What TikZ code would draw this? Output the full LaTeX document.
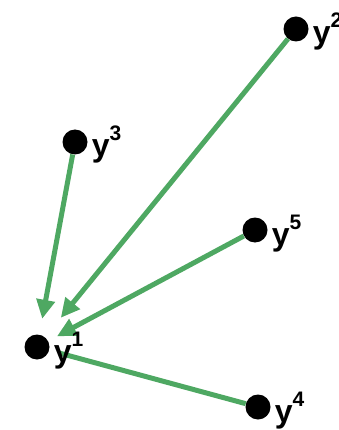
\documentclass[tikz,border=0pt]{standalone}
\usepackage{fontspec}
\setmainfont{Liberation Sans}
\usetikzlibrary{arrows.meta, positioning, calc}
\definecolor{edgecolor}{RGB}{78, 168, 98}
\newcommand{\ylab}[1]{y\raisebox{16pt}{\fontsize{21}{21}\selectfont\bfseries #1}}
\tikzset{
	point/.style={draw=none, fill=black, shape=circle, minimum size=25pt, inner sep=0pt},
	ptlabel/.style={font=\fontsize{32}{32}\selectfont\bfseries, inner sep=0pt, anchor=base west},
	link/.style={line width=5pt, color=edgecolor},
	pull/.style={link, -{Triangle[length=19pt, width=18pt]}}
}

\begin{document}
\begin{tikzpicture}[x=1pt, y=-1pt]
	\useasboundingbox (0,0) rectangle (338,430);
	
	% points
	\node (p1) [point] at (37,347) {};
	\node (p2) [point] at (296,29) {};
	\node (p3) [point] at (75,142) {};
	\node (p4) [point] at (258,407) {};
	\node (p5) [point] at (255,230) {};
	
	% edges
	\path[pull, shorten >=25pt] (p2) edge (p1);
	\path[pull, shorten >=16pt] (p3) edge (p1);
	\path[pull, shorten >=10pt] (p5) edge (p1);
	\path[link, shorten <=10pt] (p1) edge (p4);
	
	% labels
	\node (l1) [ptlabel] at ($(p1.east)+(4,15)$) {\ylab{1}};
	\node (l2) [ptlabel] at ($(p2.east)+(4,15)$) {\ylab{2}};
	\node (l3) [ptlabel] at ($(p3.east)+(4,15)$) {\ylab{3}};
	\node (l4) [ptlabel] at ($(p4.east)+(4,15)$) {\ylab{4}};
	\node (l5) [ptlabel] at ($(p5.east)+(4,15)$) {\ylab{5}};
\end{tikzpicture}
\end{document}
